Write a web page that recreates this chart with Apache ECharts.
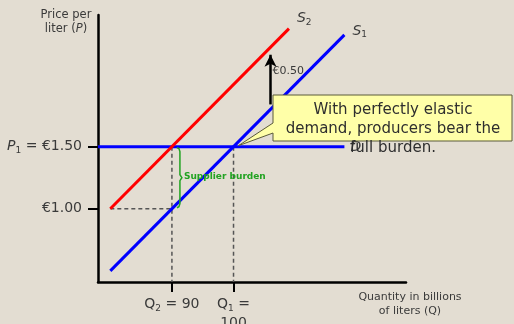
<!DOCTYPE html>
<html>
<head>
<meta charset="utf-8">
<script src="https://cdn.jsdelivr.net/npm/echarts@6/dist/echarts.min.js"></script>
<style>
  html, body { margin: 0; padding: 0; background: #e3ddd2; }
  #chart { width: 514px; height: 324px; }
</style>
</head>
<body>
<div id="chart"></div>
<script>
// supply curves (quantity, price)
const s1Points = [[80, 0.5], [118, 2.4]];
const s2Points = [[80, 1.0], [109, 2.45]];
const demandPoints = [[78, 1.5], [118, 1.5]];
// guide lines
const q2Guide = [[90, 1.5], [90, 0.41]];
const q1Guide = [[100, 1.5], [100, 0.41]];
const p100Guide = [[80, 1.0], [90, 1.0]];
// tax shift arrow
const taxArrow = [[106, 1.84], [106, 2.24]];
const xTicks = [90, 100];
const yTicks = [1.0, 1.5];
const xTickLabels = { 90: '{i|Q}{s|2} = 90', 100: '{i|Q}{s|1} =\n100' };
const yTickLabels = { 1: '€1.00', 1.5: '{i|P}{s|1} = €1.50' };

const font = 'DejaVu Sans';
const txt = '#3a3a3a';
const green = '#22a322';

const chart = echarts.init(document.getElementById('chart'));

function guide(data) {
  return {
    type: 'line', data: data, symbol: 'none', silent: true, z: 1,
    lineStyle: { color: '#555', width: 1.5, type: [4, 3] }
  };
}

const richSub = {
  i: { fontFamily: font, fontSize: 14, color: txt, fontStyle: 'italic' },
  s: { fontFamily: font, fontSize: 9, color: txt, padding: [8, 0, 0, 0] }
};

chart.setOption({
  backgroundColor: '#e3ddd2',
  animation: false,
  grid: { left: 98, right: 108, top: 15, bottom: 42, outerBoundsMode: 'none', containLabel: false },
  xAxis: {
    type: 'value', min: 78, max: 128,
    splitLine: { show: false },
    axisLine: { onZero: false, lineStyle: { color: '#000', width: 2.5 } },
    axisTick: { customValues: xTicks, length: 10, lineStyle: { color: '#000', width: 2 } },
    axisLabel: {
      customValues: xTicks, margin: 13, lineHeight: 19,
      fontFamily: font, fontSize: 14, color: txt,
      formatter: v => xTickLabels[v],
      rich: Object.assign({}, richSub, { i: { fontFamily: font, fontSize: 14, color: txt } })
    }
  },
  yAxis: {
    type: 'value', min: 0.41, max: 2.56,
    splitLine: { show: false },
    axisLine: { show: true, onZero: false, lineStyle: { color: '#000', width: 2.5 } },
    axisTick: { customValues: yTicks, length: 10, lineStyle: { color: '#000', width: 2 } },
    axisLabel: {
      customValues: yTicks, margin: 16,
      fontFamily: font, fontSize: 14, color: txt,
      formatter: v => yTickLabels[v],
      rich: richSub
    }
  },
  series: [
    guide(q2Guide),
    guide(q1Guide),
    guide(p100Guide),
    {
      name: 'D', type: 'line', data: demandPoints, symbol: 'none', z: 3,
      lineStyle: { color: '#0000ff', width: 3 },
      endLabel: {
        show: true, formatter: 'D', offset: [-2, 1],
        fontFamily: font, fontSize: 14, fontStyle: 'italic', color: txt
      }
    },
    {
      name: 'S1', type: 'line', data: s1Points, symbol: 'none', z: 3,
      lineStyle: { color: '#0000ff', width: 3 },
      endLabel: {
        show: true, formatter: '{i|S}{s|1}', offset: [0, -4],
        rich: { i: { fontFamily: font, fontSize: 14, fontStyle: 'italic', color: txt },
                s: { fontFamily: font, fontSize: 9, color: txt, padding: [8, 0, 0, 0] } }
      }
    },
    {
      name: 'S2', type: 'line', data: s2Points, symbol: 'none', z: 3,
      lineStyle: { color: '#ff0000', width: 3 },
      endLabel: {
        show: true, formatter: '{i|S}{s|2}', offset: [0, -10],
        rich: { i: { fontFamily: font, fontSize: 14, fontStyle: 'italic', color: txt },
                s: { fontFamily: font, fontSize: 9, color: txt, padding: [8, 0, 0, 0] } }
      }
    },
    {
      type: 'line', data: [], silent: true, z: 4,
      markLine: {
        silent: true, animation: false,
        symbol: ['none', 'arrow'], symbolSize: [9, 12],
        lineStyle: { color: '#000', width: 2.5, type: 'solid' },
        label: { show: false },
        data: [[{ coord: taxArrow[0] }, { coord: taxArrow[1] }]]
      }
    }
  ]
});

// annotations placed from data coordinates
const eq = chart.convertToPixel({ gridIndex: 0 }, [100, 1.5]);
const bTop = chart.convertToPixel({ gridIndex: 0 }, [90, 1.5]);
const bBot = chart.convertToPixel({ gridIndex: 0 }, [90, 1.0]);
const arrowTop = chart.convertToPixel({ gridIndex: 0 }, taxArrow[1]);
const bx = bTop[0] + 5, braceTop = bTop[1] + 1, braceBot = bBot[1] - 1;
const midY = (braceTop + braceBot) / 2;

chart.setOption({
  graphic: [
    {
      type: 'text', x: 66, y: 8,
      style: { text: 'Price per\nliter ({i|P})', align: 'center', lineHeight: 14,
        fontFamily: font, fontSize: 11.5, fill: txt,
        rich: { i: { fontFamily: font, fontSize: 11.5, fontStyle: 'italic', fill: txt } } }
    },
    {
      type: 'text', x: 410, y: 290,
      style: { text: 'Quantity in billions\nof liters (Q)', align: 'center', lineHeight: 14,
        fontFamily: font, fontSize: 11, fill: txt }
    },
    {
      type: 'text', x: arrowTop[0] + 2, y: arrowTop[1] + 11,
      style: { text: '€0.50', fontFamily: font, fontSize: 11, fill: txt }
    },
    {
      type: 'polyline', z: 10,
      shape: { points: [
        [bx, braceTop], [bx + 2, braceTop + 1], [bx + 3, braceTop + 4], [bx + 3, midY - 3], [bx + 5, midY],
        [bx + 3, midY + 3], [bx + 3, braceBot - 4], [bx + 2, braceBot - 1], [bx, braceBot]
      ] },
      style: { stroke: green, lineWidth: 1.5, fill: null }
    },
    {
      type: 'text', z: 10, x: bx + 7, y: midY - 6,
      style: { text: 'Supplier burden', fontFamily: font, fontSize: 9, fontWeight: 'bold', fill: green }
    },
    {
      type: 'polygon', z: 20,
      shape: { points: [
        [273, 95], [512, 95], [512, 141], [273, 141], [273, 133],
        [eq[0] + 5, eq[1] - 1], [273, 123]
      ] },
      style: { fill: '#ffffa8', stroke: '#5a5a3a', lineWidth: 1 }
    },
    {
      type: 'text', z: 21, x: 393, y: 101,
      style: { text: 'With perfectly elastic\ndemand, producers bear the\nfull burden.',
        align: 'center', lineHeight: 19, fontFamily: font, fontSize: 15, fill: '#2e2e2e' }
    }
  ]
});
</script>
</body>
</html>
